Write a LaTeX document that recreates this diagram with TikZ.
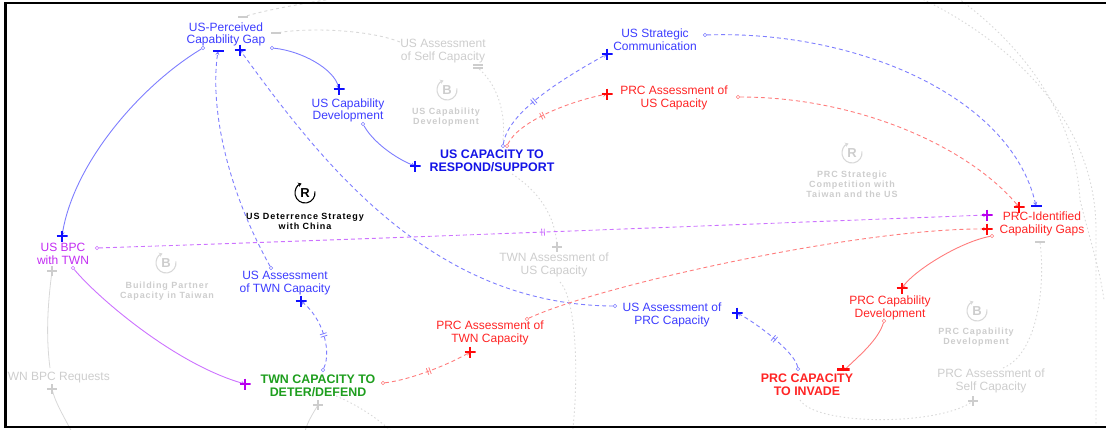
\documentclass[tikz,border=0pt]{standalone}
\usepackage{fontspec}
\setmainfont{Liberation Sans}
\newfontfamily\loopfont[LetterSpace=10]{Liberation Sans}
\usetikzlibrary{arrows.meta,decorations.markings}
\pgfdeclarelayer{links}
\pgfsetlayers{links,main}

\definecolor{ustext}{HTML}{3C3CFF}
\definecolor{uscaps}{HTML}{1414E6}
\definecolor{usmark}{HTML}{1010FF}
\definecolor{uslink}{HTML}{7E7EFF}
\definecolor{prctext}{HTML}{FF2424}
\definecolor{prcmark}{HTML}{FF0A0A}
\definecolor{prclink}{HTML}{FF7C7C}
\definecolor{bpctext}{HTML}{C22CF2}
\definecolor{bpcmark}{HTML}{B800EE}
\definecolor{bpclink}{HTML}{CC72FF}
\definecolor{twngreen}{HTML}{1E9E1E}
\definecolor{ghosttext}{HTML}{CDCDCD}
\definecolor{ghostline}{HTML}{D8D8D8}

\tikzset{
  lbl/.style={align=center, inner sep=0pt, font=\fontsize{12}{12.6}\selectfont},
  caplbl/.style={align=center, inner sep=0pt, font=\bfseries\fontsize{12.4}{13}\selectfont},
  looplbl/.style={align=center, inner sep=0pt, font=\loopfont\bfseries\fontsize{9}{10}\selectfont},
  loopletter/.style={inner sep=0pt, font=\bfseries\fontsize{13}{13}\selectfont},
  startdot/.style={circle, draw=#1, fill=white, line width=0.6pt, minimum size=3.4pt, inner sep=0pt},
  posmark/.style={minimum size=11pt, inner sep=0pt,
    path picture={\draw[#1, line width=2.6pt]
      (path picture bounding box.west) -- (path picture bounding box.east)
      (path picture bounding box.north) -- (path picture bounding box.south);}},
  ghostpos/.style={minimum size=10pt, inner sep=0pt,
    path picture={\draw[ghosttext, line width=1.6pt]
      (path picture bounding box.west) -- (path picture bounding box.east)
      (path picture bounding box.north) -- (path picture bounding box.south);}},
  negmark/.style={minimum width=11pt, minimum height=2.8pt, inner sep=0pt, fill=#1},
  ghostneg/.style={minimum width=10pt, minimum height=1.8pt, inner sep=0pt, fill=ghosttext},
  stubmark/.style={minimum width=13pt, minimum height=6pt, inner sep=0pt,
    path picture={\fill[#1] (path picture bounding box.south west) rectangle ++(13pt,2.8pt);
      \fill[#1] ([xshift=-1.3pt]path picture bounding box.south) rectangle ++(2.6pt,6pt);}},
  link/.style={line width=0.9pt, -{Stealth[length=4pt,width=4pt]}},
  dlink/.style={link, dash pattern=on 4pt off 3pt},
  ghostlink/.style={ghostline, line width=0.9pt, dash pattern=on 1.5pt off 2.5pt},
  ghostsolid/.style={ghostline, line width=0.8pt},
  delaymark/.style={postaction={decorate, decoration={markings,
    mark=at position #1 with {\draw[-, solid, line width=0.8pt]
      (-1.3pt,-3.5pt) -- (-1.3pt,3.5pt) (1.3pt,-3.5pt) -- (1.3pt,3.5pt);}}}},
}

% circular loop arrow around a loop letter
\newcommand\looparrow[2]{%
  \draw[#2, line width=1.1pt, -{Stealth[length=3.5pt,width=4.5pt]}]
    (#1.center) ++(10:10pt) arc[start angle=10, end angle=-250, radius=10pt];}

\begin{document}
\begin{tikzpicture}[x=1pt, y=-1pt]
\useasboundingbox (0,0) rectangle (1106,429);

% ---------- variables ----------
\node[lbl, text=ustext] (gap) at (226,34.5) {US-Perceived\\Capability Gap};
\node[lbl, text=ustext] (usdev) at (348,110.5) {US Capability\\Development};
\node[caplbl, text=uscaps] (uscap) at (492,161) {US CAPACITY TO\\RESPOND/SUPPORT};
\node[lbl, text=ustext] (strcom) at (655,40) {US Strategic\\Communication};
\node[lbl, text=prctext] (prcus) at (674,98) {PRC Assessment of\\US Capacity};
\node[lbl, text=prctext] (prcgap) at (1042,224) {PRC-Identified\\Capability Gaps};
\node[lbl, text=bpctext] (bpc) at (63,254) {US BPC\\with TWN};
\node[lbl, text=ustext] (ustwn) at (285,283) {US Assessment\\of TWN Capacity};
\node[caplbl, text=twngreen] (twncap) at (318,385.5) {TWN CAPACITY TO\\DETER/DEFEND};
\node[lbl, text=prctext] (prctwn) at (490,333) {PRC Assessment of\\TWN Capacity};
\node[lbl, text=ustext] (usprc) at (672,315) {US Assessment of\\PRC Capacity};
\node[lbl, text=prctext] (prcdev) at (890,308) {PRC Capability\\Development};
\node[caplbl, text=prctext] (prccap) at (807,385) {PRC CAPACITY\\TO INVADE};

% faded variables
\node[lbl, text=ghosttext] (usself) at (443,51) {US Assessment\\of Self Capacity};
\node[lbl, text=ghosttext] (twnus) at (554,265) {TWN Assessment of\\US Capacity};
\node[lbl, text=ghosttext] (prcself) at (991,381) {PRC Assessment of\\Self Capacity};

% ---------- loop labels ----------
\node[loopletter, text=black] (deterR) at (305,193) {R};
\looparrow{deterR}{black}
\node[looplbl, text=black] (deter) at (305,221) {US Deterrence Strategy\\with China};

\node[loopletter, text=ghosttext] (usdevB) at (447,90) {B};
\looparrow{usdevB}{ghostline}
\node[looplbl, text=ghosttext] (usdevloop) at (446,117) {US Capability\\Development};

\node[loopletter, text=ghosttext] (prcR) at (852,153) {R};
\looparrow{prcR}{ghostline}
\node[looplbl, text=ghosttext] (prcloop) at (852,184) {PRC Strategic\\Competition with\\Taiwan and the US};

\node[loopletter, text=ghosttext] (bpcB) at (166,263) {B};
\looparrow{bpcB}{ghostline}
\node[looplbl, text=ghosttext] (bpcloop) at (167,291) {Building Partner\\Capacity in Taiwan};

\node[loopletter, text=ghosttext] (prcdevB) at (977,311) {B};
\looparrow{prcdevB}{ghostline}
\node[looplbl, text=ghosttext] (prcdevloop) at (976,337.5) {PRC Capability\\Development};

% ---------- link starts ----------
\node[startdot=uslink] (sA) at (203,48) {};
\node[startdot=uslink] (sB) at (272,48) {};
\node[startdot=uslink] (sC) at (363,124) {};
\node[startdot=uslink] (sD) at (503,146) {};
\node[startdot=prclink] (sE) at (507,146) {};
\node[startdot=uslink] (sF) at (705,35) {};
\node[startdot=prclink] (sG) at (738,97) {};
\node[startdot=bpclink] (sH) at (97,248) {};
\node[startdot=bpclink] (sI) at (73,268) {};
\node[startdot=uslink] (sJ) at (271,268) {};
\node[startdot=uslink] (sK) at (615,306) {};
\node[startdot=uslink] (sL) at (323,370) {};
\node[startdot=prclink] (sM) at (383,383) {};
\node[startdot=prclink] (sN) at (527,319) {};
\node[startdot=prclink] (sO) at (992,236) {};
\node[startdot=prclink] (sP) at (884,321) {};
\node[startdot=uslink] (sQ) at (798,369) {};

% ---------- polarity marks ----------
\node[posmark=usmark] (pA) at (62,236) {};
\node[posmark=usmark] (pB) at (339,89) {};
\node[posmark=usmark] (pC) at (415,166) {};
\node[posmark=usmark] (pD) at (607,54) {};
\node[posmark=prcmark] (pE) at (607,94) {};
\node[negmark=usmark] (pF) at (1036,206) {};
\node[posmark=prcmark] (pG) at (1019,207) {};
\node[posmark=bpcmark] (pH) at (987,215) {};
\node[posmark=bpcmark] (pI) at (245,384) {};
\node[negmark=usmark] (pJ) at (218,51) {};
\node[posmark=usmark] (pK) at (240,50) {};
\node[posmark=usmark] (pL) at (301,301) {};
\node[posmark=prcmark] (pM) at (470,352) {};
\node[posmark=prcmark] (pN) at (987,229) {};
\node[posmark=prcmark] (pO) at (902,288) {};
\node[stubmark=prcmark] (pP) at (843,368) {};
\node[posmark=usmark] (pQ) at (737,313) {};

% faded polarity marks
\node[ghostneg] (gm1) at (276,33) {};
\node[ghostneg] (gm2) at (243,17) {};
\node[ghostneg] (gm3a) at (478,65) {};
\node[ghostneg] (gm3) at (478,68) {};
\node[ghostpos] (gp4) at (557,247) {};
\node[ghostpos] (gp6) at (318,405) {};
\node[ghostpos] (gp7) at (52,271) {};
\node[ghostpos] (gp8) at (52,389) {};
\node[ghostpos] (gp9) at (973,401) {};
\node[ghostneg] (gm10) at (1040,242) {};

% ---------- faded links ----------
\begin{pgfonlayer}{links}
\begin{scope}
\clip (6.5,0) rectangle (1106,429);
\node[lbl, text=ghosttext, anchor=east] (twnreq) at (110,378) {TWN BPC Requests};

\coordinate (gs1) at (400,42);
\coordinate (gs2) at (350,-4);
\coordinate (gs3) at (503,140);
\coordinate (gs4) at (512,174);
\coordinate (gs5) at (560,282);
\coordinate (ge5) at (572,436);
\coordinate (ge6) at (304,436);
\coordinate (gs6) at (336,396);
\coordinate (ge6b) at (396,436);
\coordinate (gs7) at (50,368);
\coordinate (ge8) at (74,436);
\coordinate (gs9) at (800,400);
\coordinate (gs10) at (1003,368);
\coordinate (ga) at (916,-4);
\coordinate (gb) at (1096,230);
\coordinate (gc) at (1096,436);
\coordinate (gd) at (955,-4);
\coordinate (ge) at (1080,200);
\coordinate (gf) at (1104,300);

\draw[ghostline, line width=0.9pt, dash pattern=on 3pt off 3pt]
  (gs1) .. controls (370,30) and (310,27) .. (gm1.center);
\draw[ghostline, line width=0.9pt, dash pattern=on 3pt off 3pt]
  (gs2) .. controls (300,4) and (265,10) .. (gm2.center);
\draw[ghostlink] (gs3) .. controls (506,112) and (497,84) .. (gm3.center);
\draw[ghostlink] (gs4) .. controls (537,190) and (556,215) .. (gp4.center);
\draw[ghostlink] (gs5) .. controls (577,300) and (579,380) .. (ge5);
\draw[ghostsolid] (gp6.center) .. controls (312,415) and (306,424) .. (ge6);
\draw[ghostlink] (gs6) .. controls (356,404) and (381,420) .. (ge6b);
\draw[ghostsolid] (gs7) .. controls (45,330) and (49,295) .. (gp7.center);
\draw[ghostsolid] (ge8) .. controls (63,415) and (55,402) .. (gp8.center);
\draw[ghostlink] (gs9) .. controls (816,426) and (940,426) .. (gp9.center);
\draw[ghostlink] (gs10) .. controls (1036,355) and (1046,290) .. (gm10.center);
\draw[ghostlink] (ga) .. controls (1010,40) and (1096,120) .. (gb) -- (gc);
\draw[ghostlink] (gd) .. controls (1030,50) and (1075,120) .. (ge) .. controls (1090,240) and (1100,270) .. (gf);
\end{scope}

% ---------- causal links ----------
\draw[link, uslink] (sA) .. controls (143,84) and (74,161) .. (pA.center);
\draw[link, uslink] (sB) .. controls (302,51) and (334,69) .. (pB.center);
\draw[link, uslink] (sC) .. controls (373,142) and (395,158) .. (pC.center);
\draw[dlink, uslink, delaymark=0.38] (sD) .. controls (508,112) and (562,79) .. (pD.center);
\draw[dlink, prclink, delaymark=0.4] (sE) .. controls (518,122) and (567,102) .. (pE.center);
\draw[dlink, uslink] (sF) .. controls (855,30) and (1011,96) .. (pF.center);
\draw[dlink, prclink] (sG) .. controls (858,97) and (969,147) .. (pG.center);
\draw[dlink, bpclink, delaymark=0.5] (sH) .. controls (400,238) and (700,226) .. (pH.center);
\draw[link, bpclink] (sI) .. controls (98,298) and (175,364) .. (pI.center);
\draw[dlink, uslink] (sJ) .. controls (225,185) and (210,105) .. (pJ.center);
\draw[dlink, uslink] (sK) .. controls (430,305) and (320,160) .. (pK.center);
\draw[dlink, uslink, delaymark=0.45] (sL) .. controls (332,350) and (322,318) .. (pL.center);
\draw[dlink, prclink, delaymark=0.5] (sM) .. controls (410,380) and (450,364) .. (pM.center);
\draw[dlink, prclink] (sN) .. controls (600,285) and (860,228) .. (pN.center);
\draw[link, prclink] (sO) .. controls (960,242) and (915,270) .. (pO.center);
\draw[link, prclink] (sP) .. controls (878,340) and (860,355) .. (pP.south);
\draw[dlink, uslink, delaymark=0.45] (sQ) .. controls (795,352) and (755,322) .. (pQ.center);
\end{pgfonlayer}

% ---------- frame ----------
\draw[line width=2.7pt] (1112,3) -- (5.3,3) -- (5.3,427) -- (1112,427);
\end{tikzpicture}
\end{document}
